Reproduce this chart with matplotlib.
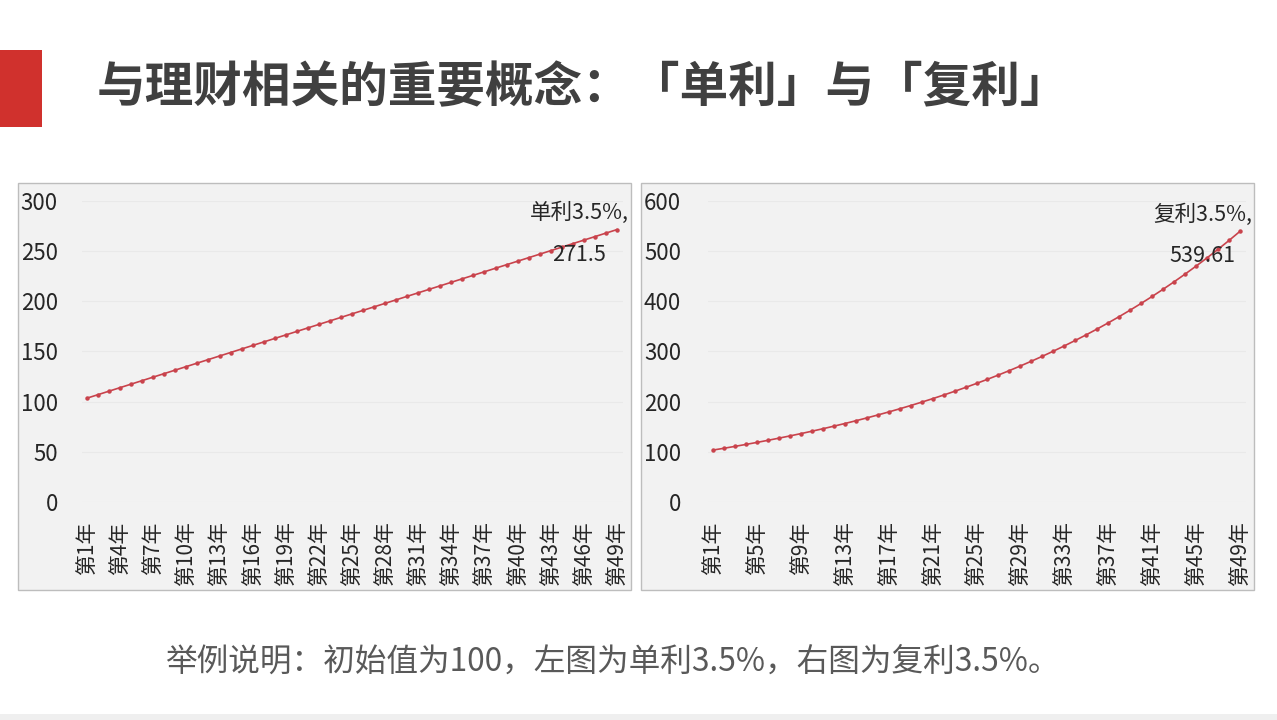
import matplotlib
matplotlib.use('Agg')
import matplotlib.pyplot as plt
from matplotlib.patches import Rectangle

plt.rcParams['font.family'] = ['Noto Sans CJK SC', 'DejaVu Sans']

# 年份类别
years = list(range(1, 50))
year_labels = ['第%d年' % y for y in years]

# 单利 3.5%
simple = [103.5, 107, 110.5, 114, 117.5, 121, 124.5, 128, 131.5, 135,
          138.5, 142, 145.5, 149, 152.5, 156, 159.5, 163, 166.5, 170,
          173.5, 177, 180.5, 184, 187.5, 191, 194.5, 198, 201.5, 205,
          208.5, 212, 215.5, 219, 222.5, 226, 229.5, 233, 236.5, 240,
          243.5, 247, 250.5, 254, 257.5, 261, 264.5, 268, 271.5]

# 复利 3.5%
compound = [103.50, 107.12, 110.87, 114.75, 118.77, 122.93, 127.23, 131.68, 136.29, 141.06,
            146.00, 151.11, 156.40, 161.87, 167.53, 173.40, 179.47, 185.75, 192.25, 198.98,
            205.94, 213.15, 220.61, 228.33, 236.32, 244.60, 253.16, 262.02, 271.19, 280.68,
            290.50, 300.67, 311.19, 322.09, 333.36, 345.03, 357.10, 369.60, 382.54, 395.93,
            409.78, 424.13, 438.97, 454.33, 470.24, 486.69, 503.73, 521.36, 539.61]

W, H = 1277, 720
LINE = '#c9434c'

fig = plt.figure(figsize=(W / 100, H / 100), dpi=100)
fig.patch.set_facecolor('white')


def px_rect(x0, y0, x1, y1, **kw):
    # 像素坐标 -> figure 坐标
    fig.patches.append(Rectangle((x0 / W, 1 - y1 / H), (x1 - x0) / W, (y1 - y0) / H,
                                 transform=fig.transFigure, zorder=-10, **kw))


def px_axes(x0, y0, x1, y1):
    return fig.add_axes([x0 / W, 1 - y1 / H, (x1 - x0) / W, (y1 - y0) / H])


# 红色标记条、底部灰条
px_rect(0, 50, 42, 127, facecolor='#d0312d', edgecolor='none')
px_rect(0, 714, W, 720, facecolor='#efefef', edgecolor='none')

# 两个图表背景
px_rect(18, 183, 631, 590, facecolor='#f2f2f2', edgecolor='#bdbdbd', linewidth=1)
px_rect(641, 183, 1254, 590, facecolor='#f2f2f2', edgecolor='#bdbdbd', linewidth=1)

fig.text(97 / W, 1 - 88 / H, '与理财相关的重要概念：「单利」与「复利」',
         fontsize=35, fontweight='bold', color='#404040', ha='left', va='center')

fig.text(165 / W, 1 - 662 / H, '举例说明：初始值为100，左图为单利3.5%，右图为复利3.5%。',
         fontsize=22.8, color='#595959', ha='left', va='center')


def draw(ax, values, ymax, ystep, tick_every, label, ypad):
    ax.set_facecolor('none')
    ax.plot(years, values, color=LINE, lw=1.2, marker='o', markersize=2.2,
            markerfacecolor=LINE, markeredgecolor=LINE, zorder=3)
    ax.set_xlim(0.5, 49.5)
    ax.set_ylim(0, ymax)
    ax.set_yticks(range(0, ymax + 1, ystep))
    ax.yaxis.grid(True, color='#e9e9e9', lw=0.8)
    ax.set_axisbelow(True)
    ticks = years[::tick_every]
    ax.set_xticks(ticks)
    ax.set_xticklabels([year_labels[t - 1] for t in ticks], rotation=90)
    ax.tick_params(axis='x', length=0, pad=14, labelsize=15, colors='#262626')
    ax.tick_params(axis='y', length=0, pad=ypad, labelsize=16, colors='#262626')
    for s in ax.spines.values():
        s.set_visible(False)
    ax.annotate(label, xy=(years[-1], values[-1]), xytext=(-27, -3),
                textcoords='offset points', ha='center', va='center',
                fontsize=15.5, color='#262626', linespacing=2.15)


ax1 = px_axes(81.5, 201, 622.5, 502)
draw(ax1, simple, 300, 50, 3, '单利3.5%,\n271.5', 17)

ax2 = px_axes(707.5, 201, 1245.5, 502)
draw(ax2, compound, 600, 100, 4, '复利3.5%,\n539.61', 19)

fig.savefig('out.png', dpi=100, facecolor='white')
